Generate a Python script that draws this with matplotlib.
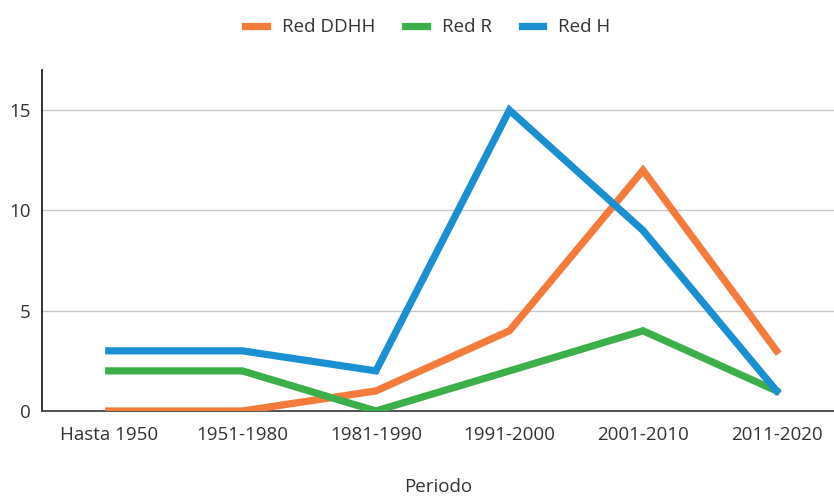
import numpy as np
import matplotlib.pyplot as plt

periodos = ['Hasta 1950', '1951-1980', '1981-1990', '1991-2000', '2001-2010', '2011-2020']
red_ddhh = [0, 0, 1, 4, 12, 3]
red_r = [2, 2, 0, 2, 4, 1]
red_h = [3, 3, 2, 15, 9, 1]

plt.rcParams['font.family'] = ['Open Sans', 'DejaVu Sans']

fig = plt.figure(figsize=(8.34, 4.97), dpi=100)
ax = fig.add_axes([42 / 834, 1 - 411 / 497, 1 - 42 / 834, (411 - 70) / 497])

x = np.arange(len(periodos))
ax.plot(x, red_ddhh, color='#F47B3C', lw=5.2, label='Red DDHH', solid_joinstyle='miter', zorder=3)
ax.plot(x, red_r, color='#3DAF4A', lw=5.2, label='Red R', solid_joinstyle='miter', zorder=4)
ax.plot(x, red_h, color='#1A90D2', lw=5.2, label='Red H', solid_joinstyle='miter', zorder=5)

ax.set_xlim(-0.5, 5.43)
ax.set_ylim(0, 17)
ax.set_yticks([0, 5, 10, 15])
ax.set_xticks(x)
ax.set_xticklabels(periodos)
ax.tick_params(axis='both', length=0, labelsize=13.5, colors='#333333')
ax.tick_params(axis='x', pad=11)
ax.tick_params(axis='y', pad=8)
ax.grid(axis='y', color='#c8c8c8', lw=1)
ax.set_axisbelow(True)
for s in ['top', 'right']:
    ax.spines[s].set_visible(False)
ax.spines['left'].set_color('#222222')
ax.spines['bottom'].set_color('#444444')
ax.spines['left'].set_linewidth(1.3)
ax.spines['bottom'].set_linewidth(1.3)
ax.set_xlabel('Periodo', fontsize=13.5, color='#333333', labelpad=24)

fig.legend(loc='upper center', bbox_to_anchor=(0.513, 0.997), ncol=3, frameon=False,
           fontsize=13.5, handlelength=1.15, columnspacing=1.6, handletextpad=0.8,
           labelcolor='#333333')

fig.savefig('out.png', dpi=100)
